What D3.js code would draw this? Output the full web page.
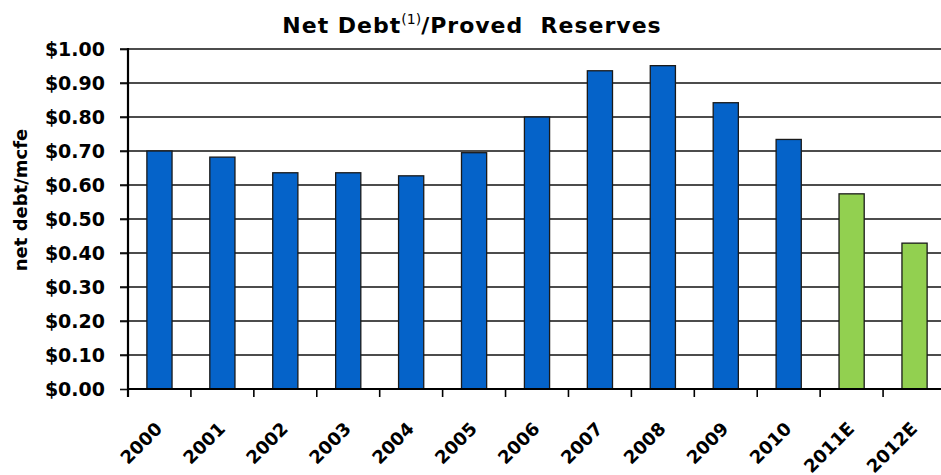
<!DOCTYPE html>
<html><head><meta charset="utf-8">
<script src="https://cdn.jsdelivr.net/npm/d3@7"></script>
<style>body{margin:0;background:#fff}svg{display:block}text{font-family:"DejaVu Sans",sans-serif;font-weight:bold;fill:#000}</style>
</head><body>
<script>
const categories = ["2000","2001","2002","2003","2004","2005","2006","2007","2008","2009","2010","2011E","2012E"];
const values = [0.70,0.682,0.636,0.636,0.627,0.695,0.80,0.936,0.951,0.842,0.734,0.574,0.429];
const estimated = [false,false,false,false,false,false,false,false,false,false,false,true,true];
const yTicks = [0,0.1,0.2,0.3,0.4,0.5,0.6,0.7,0.8,0.9,1.0];

(function(){
const W=941,H=475;
const svg=d3.select("body").append("svg").attr("width",W).attr("height",H);
const pL=128, pR=946, pT=49, pB=389;
const x=d3.scaleBand().domain(categories).range([pL,pR]).paddingInner(0.6).paddingOuter(0.3);
const y=d3.scaleLinear().domain([0,1]).range([pB,pT]);
const fmt=d=>"$"+d.toFixed(2);

svg.append("g").selectAll("line").data(yTicks.filter(d=>d>0)).join("line")
  .attr("x1",pL-8).attr("x2",W).attr("y1",d=>y(d)).attr("y2",d=>y(d))
  .attr("stroke","#111").attr("stroke-width",1.6);

const ya=svg.append("g").attr("transform",`translate(${pL},0)`)
  .call(d3.axisLeft(y).tickValues(yTicks).tickFormat(fmt).tickSize(8).tickPadding(15));
ya.select(".domain").remove();
ya.selectAll(".tick line").attr("stroke","#111").attr("stroke-width",1.6);
ya.selectAll("text").attr("font-size",19).attr("dy","0.36em").style("font-family","'DejaVu Sans',sans-serif").style("font-weight","bold");
svg.append("line").attr("x1",pL).attr("x2",pL).attr("y1",pT-1).attr("y2",pB+8).attr("stroke","#000").attr("stroke-width",2.2);

svg.append("g").selectAll("rect").data(categories).join("rect")
  .attr("x",d=>x(d)).attr("width",x.bandwidth())
  .attr("y",(d,i)=>y(values[i])).attr("height",(d,i)=>y(0)-y(values[i]))
  .attr("fill",(d,i)=>estimated[i]?"#92D050":"#0563C9")
  .attr("stroke","#1a1a1a").attr("stroke-width",1.3);

svg.append("line").attr("x1",pL).attr("x2",W).attr("y1",pB).attr("y2",pB).attr("stroke","#000").attr("stroke-width",2.2);
const step=x.step();
svg.append("g").selectAll("line").data(d3.range(categories.length+1)).join("line")
  .attr("x1",i=>pL+i*step).attr("x2",i=>pL+i*step).attr("y1",pB).attr("y2",pB+8)
  .attr("stroke","#000").attr("stroke-width",1.6);
svg.append("g").selectAll("text").data(categories).join("text")
  .attr("transform",d=>`translate(${x(d)+x.bandwidth()/2-5},${pB+32}) rotate(-45)`)
  .attr("text-anchor","end").attr("dy","0.7em").attr("font-size",18).text(d=>d);

svg.append("text").attr("transform",`translate(27,200) rotate(-90)`)
  .attr("text-anchor","middle").attr("font-size",18).text("net debt/mcfe");

const t=svg.append("text").attr("x",472).attr("y",33).attr("text-anchor","middle").attr("font-size",22).attr("letter-spacing",1);
t.append("tspan").text("Net Debt");
t.append("tspan").attr("font-size",14).attr("font-weight","normal").attr("dy",-9).attr("letter-spacing",0).text("(1)");
t.append("tspan").attr("dy",9).text("/Proved\u00a0 Reserves");
})();
</script>
</body></html>
